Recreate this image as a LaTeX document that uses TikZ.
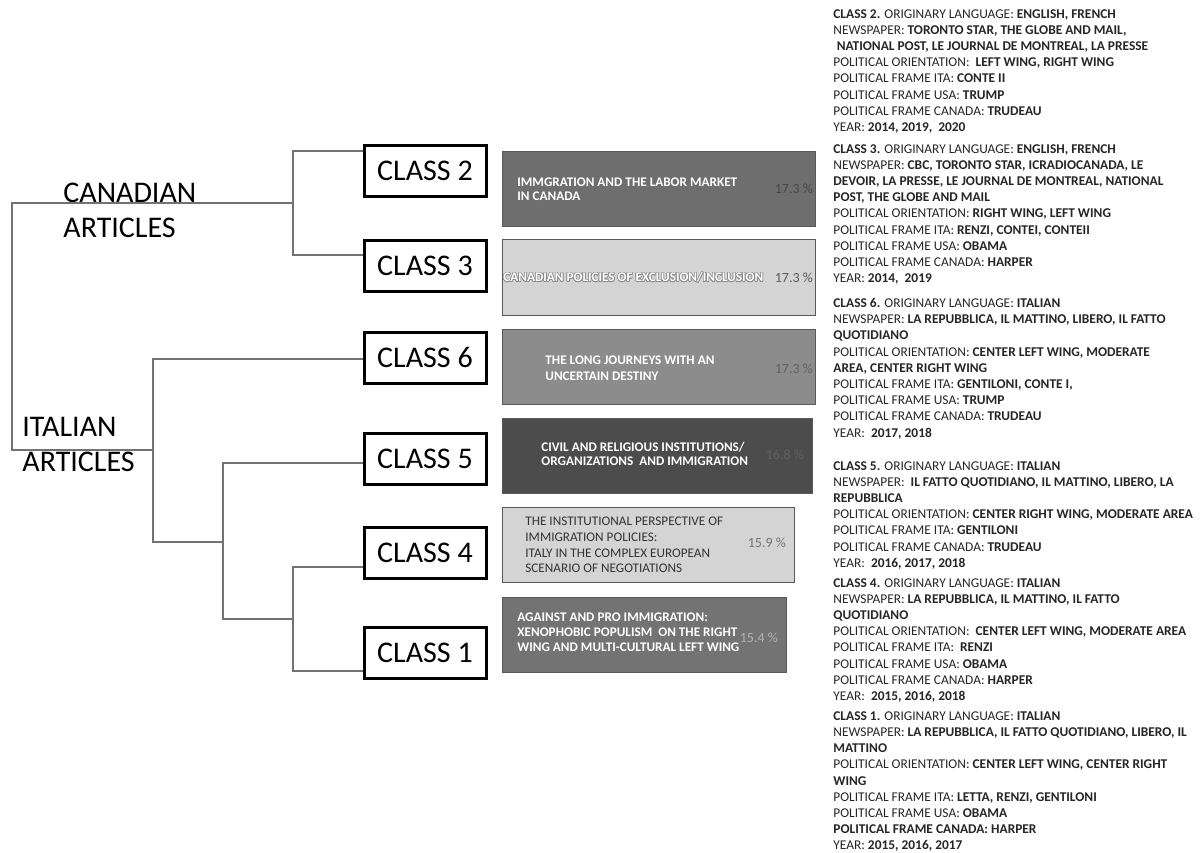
\documentclass[tikz,border=0pt]{standalone}
\usepackage{fontspec}
\setmainfont{Carlito}
\usepackage{contour}
\contourlength{0.3pt}

\tikzset{
	tree/.style={draw=black!55, line width=0.75pt},
	classbox/.style={draw=black, line width=1.5pt, fill=white, minimum width=61pt, minimum height=25.5pt, inner sep=0pt, font=\fontsize{15}{18}\selectfont},
	topicbox/.style={draw=black!65, line width=0.6pt, anchor=north west, inner sep=0pt, minimum height=37.5pt},
	topic/.style={anchor=west, align=left, inner sep=0pt, text=white, font=\bfseries\fontsize{6.6}{7}\selectfont},
	pct/.style={anchor=east, inner sep=0pt, font=\fontsize{7}{8}\selectfont},
	info/.style={anchor=north west, align=left, inner sep=0pt, text=black!85, font=\fontsize{6.7}{8.1}\selectfont},
	group/.style={anchor=north west, align=left, inner sep=0pt, font=\fontsize{15}{17.5}\selectfont},
}

\begin{document}
\begin{tikzpicture}[x=0.5pt,y=-0.5pt]
\useasboundingbox [fill=white] (0,0) rectangle (1200,852);

% left labels
\node [group] (can) at (63,183) {CANADIAN\\ARTICLES};
\node [group] (ita) at (22,417) {ITALIAN\\ARTICLES};

% classes
\node [classbox] (c2) at (425,170.5) {CLASS 2};
\node [classbox] (c3) at (425,265.5) {CLASS 3};
\node [classbox] (c6) at (425,357.5) {CLASS 6};
\node [classbox] (c5) at (425,458.5) {CLASS 5};
\node [classbox] (c4) at (425,553) {CLASS 4};
\node [classbox] (c1) at (425,653) {CLASS 1};

% dendrogram
\coordinate (root) at (12,203);
\coordinate (jc) at (293,203);
\coordinate (ji) at (153,450);
\coordinate (j541) at (223,542);
\coordinate (j41) at (293,619);

\draw [tree] (c2.west |- 0,151) -| (jc) |- (c3.west |- 0,255);
\draw [tree] (jc) -- (root) |- (ji);
\draw [tree] (c6.west |- 0,359) -| (ji) |- (j541);
\draw [tree] (c5.west |- 0,463) -| (j541) |- (j41);
\draw [tree] (c4.west |- 0,567) -| (j41) |- (c1.west |- 0,671);

% topics
\node [topicbox, fill=black!57, minimum width=156.5pt] (t2) at (502,151) {};
\node [topic] (t2t) at ([xshift=7.5pt]t2.west) {IMMGRATION AND THE LABOR MARKET\\IN CANADA};
\node [pct, text=black!72] (t2p) at ([xshift=-1.5pt]t2.east) {17.3 \%};

\node [topicbox, fill=black!17, minimum width=156.5pt, minimum height=38pt] (t3) at (502,239) {};
\node [topic] (t3t) at ([xshift=0.5pt]t3.west) {\contour{black!45}{CANADIAN POLICIES OF EXCLUSION/INCLUSION}};
\node [pct, text=black!65] (t3p) at ([xshift=-1.5pt]t3.east) {17.3 \%};

\node [topicbox, fill=black!45, minimum width=156.5pt] (t6) at (502,329) {};
\node [topic, font=\bfseries\fontsize{6.6}{8}\selectfont] (t6t) at ([xshift=21.5pt,yshift=-0.5pt]t6.west) {THE LONG JOURNEYS WITH AN\\UNCERTAIN DESTINY};
\node [pct, text=black!62] (t6p) at ([xshift=-1.5pt,yshift=-1pt]t6.east) {17.3 \%};

\node [topicbox, fill=black!70, minimum width=155pt] (t5) at (502,418) {};
\node [topic] (t5t) at ([xshift=19.5pt,yshift=1pt]t5.west) {CIVIL AND RELIGIOUS INSTITUTIONS/\\ORGANIZATIONS\ \ AND IMMIGRATION};
\node [pct, text=black!62] (t5p) at ([xshift=-4.5pt,yshift=0.5pt]t5.east) {16.8 \%};

\node [topicbox, fill=black!17, minimum width=146pt] (t4) at (502,507) {};
\node [topic, text=black!80, font=\fontsize{6.6}{7.8}\selectfont] (t4t) at ([xshift=11.5pt]t4.west) {THE INSTITUTIONAL PERSPECTIVE OF\\IMMIGRATION POLICIES:\\ITALY IN THE COMPLEX EUROPEAN\\SCENARIO OF NEGOTIATIONS};
\node [pct, text=black!55] (t4p) at ([xshift=-4.5pt,yshift=1pt]t4.east) {15.9 \%};

\node [topicbox, fill=black!55, minimum width=142pt] (t1) at (502,597) {};
\node [topic, font=\bfseries\fontsize{6.6}{7.5}\selectfont] (t1t) at ([xshift=7.5pt,yshift=1.5pt]t1.west) {AGAINST AND PRO IMMIGRATION:\\XENOPHOBIC POPULISM\ \ ON THE RIGHT\\WING AND MULTI-CULTURAL LEFT WING};
\node [pct, text=black!30] (t1p) at ([xshift=-4.5pt,yshift=-1.5pt]t1.east) {15.4 \%};

% descriptions
\node [info] (i2) at (833,9) {\textbf{CLASS 2.} ORIGINARY LANGUAGE: \textbf{ENGLISH, FRENCH}\\
NEWSPAPER: \textbf{TORONTO STAR, THE GLOBE AND MAIL,}\\
\hspace*{0.25em}\textbf{NATIONAL POST, LE JOURNAL DE MONTREAL, LA PRESSE}\\
POLITICAL ORIENTATION:\ \ \textbf{LEFT WING, RIGHT WING}\\
POLITICAL FRAME ITA: \textbf{CONTE II}\\
POLITICAL FRAME USA: \textbf{TRUMP}\\
POLITICAL FRAME CANADA: \textbf{TRUDEAU}\\
YEAR: \textbf{2014, 2019,\ \ 2020}};

\node [info] (i3) at (833,144) {\textbf{CLASS 3.} ORIGINARY LANGUAGE: \textbf{ENGLISH, FRENCH}\\
NEWSPAPER: \textbf{CBC, TORONTO STAR, ICRADIOCANADA, LE}\\
\textbf{DEVOIR, LA PRESSE, LE JOURNAL DE MONTREAL, NATIONAL}\\
\textbf{POST, THE GLOBE AND MAIL}\\
POLITICAL ORIENTATION: \textbf{RIGHT WING, LEFT WING}\\
POLITICAL FRAME ITA: \textbf{RENZI, CONTEI, CONTEII}\\
POLITICAL FRAME USA: \textbf{OBAMA}\\
POLITICAL FRAME CANADA: \textbf{HARPER}\\
YEAR: \textbf{2014,\ \ 2019}};

\node [info] (i6) at (833,298) {\textbf{CLASS 6.} ORIGINARY LANGUAGE: \textbf{ITALIAN}\\
NEWSPAPER: \textbf{LA REPUBBLICA, IL MATTINO, LIBERO, IL FATTO}\\
\textbf{QUOTIDIANO}\\
POLITICAL ORIENTATION: \textbf{CENTER LEFT WING, MODERATE}\\
\textbf{AREA, CENTER RIGHT WING}\\
POLITICAL FRAME ITA: \textbf{GENTILONI, CONTE I,}\\
POLITICAL FRAME USA: \textbf{TRUMP}\\
POLITICAL FRAME CANADA: \textbf{TRUDEAU}\\
YEAR:\ \ \textbf{2017, 2018}};

\node [info] (i5) at (833,461) {\textbf{CLASS 5.} ORIGINARY LANGUAGE: \textbf{ITALIAN}\\
NEWSPAPER:\ \ \textbf{IL FATTO QUOTIDIANO, IL MATTINO, LIBERO, LA}\\
\textbf{REPUBBLICA}\\
POLITICAL ORIENTATION: \textbf{CENTER RIGHT WING, MODERATE AREA}\\
POLITICAL FRAME ITA: \textbf{GENTILONI}\\
POLITICAL FRAME CANADA: \textbf{TRUDEAU}\\
YEAR:\ \ \textbf{2016, 2017, 2018}};

\node [info] (i4) at (833,578) {\textbf{CLASS 4.} ORIGINARY LANGUAGE: \textbf{ITALIAN}\\
NEWSPAPER: \textbf{LA REPUBBLICA, IL MATTINO, IL FATTO}\\
\textbf{QUOTIDIANO}\\
POLITICAL ORIENTATION:\ \ \textbf{CENTER LEFT WING, MODERATE AREA}\\
POLITICAL FRAME ITA:\ \ \textbf{RENZI}\\
POLITICAL FRAME USA: \textbf{OBAMA}\\
POLITICAL FRAME CANADA: \textbf{HARPER}\\
YEAR:\ \ \textbf{2015, 2016, 2018}};

\node [info] (i1) at (833,711) {\textbf{CLASS 1.} ORIGINARY LANGUAGE: \textbf{ITALIAN}\\
NEWSPAPER: \textbf{LA REPUBBLICA, IL FATTO QUOTIDIANO, LIBERO, IL}\\
\textbf{MATTINO}\\
POLITICAL ORIENTATION: \textbf{CENTER LEFT WING, CENTER RIGHT}\\
\textbf{WING}\\
POLITICAL FRAME ITA: \textbf{LETTA, RENZI, GENTILONI}\\
POLITICAL FRAME USA: \textbf{OBAMA}\\
\textbf{POLITICAL FRAME CANADA: HARPER}\\
YEAR: \textbf{2015, 2016, 2017}};

\end{tikzpicture}
\end{document}
